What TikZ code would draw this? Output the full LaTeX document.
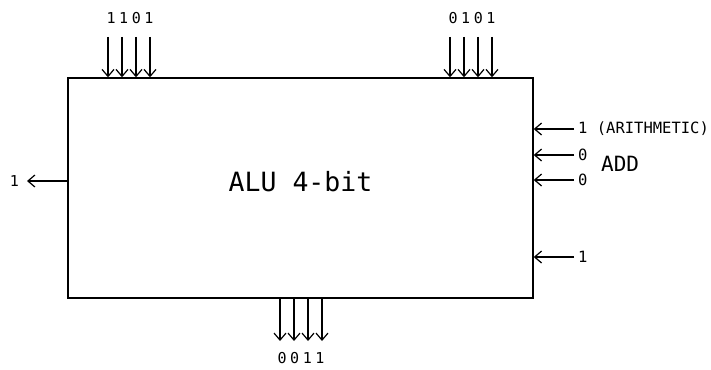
\documentclass[tikz,border=0pt]{standalone}
\usepackage{fontspec}
\setmainfont{DejaVu Sans Mono}
\newfontfamily\bitfont[LetterSpace=24]{DejaVu Sans Mono}
\usetikzlibrary{arrows.meta}
\begin{document}
\begin{tikzpicture}[x=1pt,y=-1pt,
  wire/.style={line width=1.4pt,-{Straight Barb[length=7pt,width=12pt,line width=1.2pt]}},
  bits/.style={inner sep=0pt,font=\bitfont\fontsize{15}{15}\selectfont},
  small/.style={inner sep=0pt,font=\fontsize{15.5}{15.5}\selectfont},
  unit/.style={draw,line width=1.4pt,minimum width=465pt,minimum height=220pt,inner sep=0pt}]
\useasboundingbox (0,0) rectangle (711,369);
\node[unit] (alu) at (300.5,188) {};
\node[inner sep=0pt,font=\fontsize{26.5}{26.5}\selectfont] (title) at (300.5,182) {ALU 4-bit};
% top inputs A
\foreach \i/\x in {1/108,2/122,3/136,4/150}{
  \coordinate (a\i) at (\x,37);
  \draw[wire] (a\i) -- (a\i |- alu.north);
}
\node[bits] (la) at (130,18) {1101};
% top inputs B
\foreach \i/\x in {1/450,2/464,3/478,4/492}{
  \coordinate (b\i) at (\x,37);
  \draw[wire] (b\i) -- (b\i |- alu.north);
}
\node[bits] (lb) at (472,18) {0101};
% bottom outputs
\foreach \i/\x in {1/280,2/294,3/308,4/322}{
  \coordinate (o\i) at (\x,341);
  \draw[wire] (o\i |- alu.south) -- (o\i);
}
\node[bits] (lo) at (301,358) {0011};
% left output
\coordinate (cout) at (27,181);
\draw[wire] (cout -| alu.west) -- (cout);
\node[bits,anchor=east] (lc) at (19,181) {1};
% right control inputs
\foreach \i/\y in {1/129,2/155,3/180,4/257}{
  \coordinate (c\i) at (574,\y);
  \draw[wire] (c\i) -- (c\i -| alu.east);
}
\node[small,anchor=west] (l1) at (578,129) {1 (ARITHMETIC)};
\node[small,anchor=west] (l2) at (578,155) {0};
\node[small,anchor=west] (l3) at (578,180) {0};
\node[small,anchor=west] (l4) at (578,257) {1};
\node[inner sep=0pt,anchor=west,font=\fontsize{21}{21}\selectfont] (op) at (601,164) {ADD};
\end{tikzpicture}
\end{document}
